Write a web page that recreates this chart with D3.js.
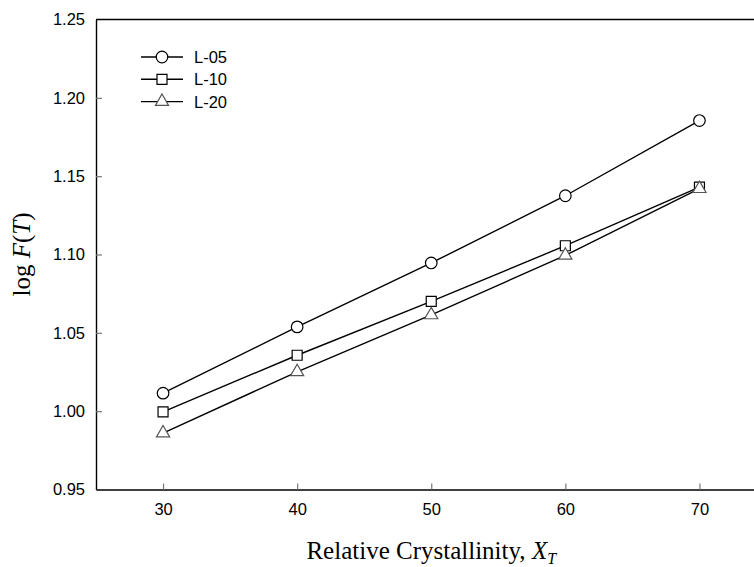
<!DOCTYPE html>
<html>
<head>
<meta charset="utf-8">
<script src="https://cdn.jsdelivr.net/npm/d3@7/dist/d3.min.js"></script>
<style>
  body { margin: 0; background: #fff; }
  svg { display: block; }
</style>
</head>
<body>
<svg id="chart" width="754" height="567"></svg>
<script>
// chart data
const crystallinity = [30, 40, 50, 60, 70];
const seriesNames = ['L-05', 'L-10', 'L-20'];
const l05 = [1.0115, 1.0538, 1.0946, 1.1375, 1.1855];
const l10 = [0.9996, 1.0357, 1.0701, 1.1056, 1.1430];
const l20 = [0.9860, 1.0251, 1.0614, 1.0995, 1.1420];
const xTicks = [30, 40, 50, 60, 70];
const yTicks = [0.95, 1.00, 1.05, 1.10, 1.15, 1.20, 1.25];

const svg = d3.select('#chart');
const margin = { left: 96, top: 19.5, bottom: 489.5 };

const x = d3.scaleLinear().domain([25, 75]).range([margin.left, margin.left + 50 * 13.41]);
const y = d3.scaleLinear().domain([0.95, 1.25]).range([margin.bottom, margin.top]);

// frame (top + left + bottom; right edge falls outside the page)
svg.append('line').attr('x1', x(25)).attr('x2', x(75)).attr('y1', y(1.25)).attr('y2', y(1.25))
    .attr('stroke', '#000').attr('stroke-width', 1.4);

const yAxis = svg.append('g')
    .attr('transform', 'translate(' + x(25) + ',0)')
    .call(d3.axisLeft(y).tickValues(yTicks).tickFormat(d3.format('.2f')).tickSizeInner(-6).tickSizeOuter(0).tickPadding(11));

const xAxis = svg.append('g')
    .attr('transform', 'translate(0,' + y(0.95) + ')')
    .call(d3.axisBottom(x).tickValues(xTicks).tickSizeInner(-6).tickSizeOuter(0).tickPadding(14));

[xAxis, yAxis].forEach(function (a) {
    a.select('.domain').attr('stroke', '#000').attr('stroke-width', 1.4);
    a.selectAll('.tick line').attr('stroke', '#777').attr('stroke-width', 1.2);
    a.selectAll('.tick text').attr('fill', '#000')
        .style('font-family', 'Arial, "Liberation Sans", sans-serif').style('font-size', '16.5px');
});
yAxis.selectAll('.tick').filter(function (d) { return d === 0.95 || d === 1.25; }).select('line').remove();

// axis titles
svg.append('text')
    .attr('x', x(50)).attr('y', 559)
    .attr('text-anchor', 'middle')
    .style('font-family', '"Liberation Serif", "Times New Roman", serif').style('font-size', '25px')
    .html('Relative Crystallinity, <tspan font-style="italic">X</tspan><tspan font-style="italic" font-size="16px" dy="5">T</tspan>');

svg.append('text')
    .attr('transform', 'translate(30,' + y(1.10) + ') rotate(-90)')
    .attr('text-anchor', 'middle')
    .style('font-family', '"Liberation Serif", "Times New Roman", serif').style('font-size', '25px')
    .html('log <tspan font-style="italic">F</tspan>(<tspan font-style="italic">T</tspan>)');

// markers
const shapes = [d3.symbolCircle, d3.symbolSquare, d3.symbolTriangle];
const sizes = [105, 100, 75];
const strokes = ['#000', '#000', '#555'];
const allSeries = [l05, l10, l20];

const line = d3.line().x(function (d, i) { return x(crystallinity[i]); }).y(function (d) { return y(d); });

allSeries.forEach(function (vals, s) {
    svg.append('path').datum(vals)
        .attr('d', line).attr('fill', 'none').attr('stroke', '#000').attr('stroke-width', 1.4);
    svg.selectAll('.m' + s).data(vals).enter().append('path')
        .attr('class', 'm' + s)
        .attr('transform', function (d, i) { return 'translate(' + x(crystallinity[i]) + ',' + y(d) + ')'; })
        .attr('d', d3.symbol().type(shapes[s]).size(sizes[s]))
        .attr('fill', '#fff').attr('stroke', strokes[s]).attr('stroke-width', 1.2);
});

// legend
const legend = svg.append('g').attr('transform', 'translate(141,57)');
seriesNames.forEach(function (name, s) {
    const g = legend.append('g').attr('transform', 'translate(0,' + (s * 22.3) + ')');
    g.append('line').attr('x1', 0).attr('x2', 42).attr('stroke', '#000').attr('stroke-width', 1.4);
    g.append('path').attr('transform', 'translate(21,0)')
        .attr('d', d3.symbol().type(shapes[s]).size(sizes[s]))
        .attr('fill', '#fff').attr('stroke', strokes[s]).attr('stroke-width', 1.2);
    g.append('text').attr('x', 53).attr('y', 6)
        .style('font-family', 'Arial, "Liberation Sans", sans-serif').style('font-size', '16.5px')
        .text(name);
});
</script>
</body>
</html>
